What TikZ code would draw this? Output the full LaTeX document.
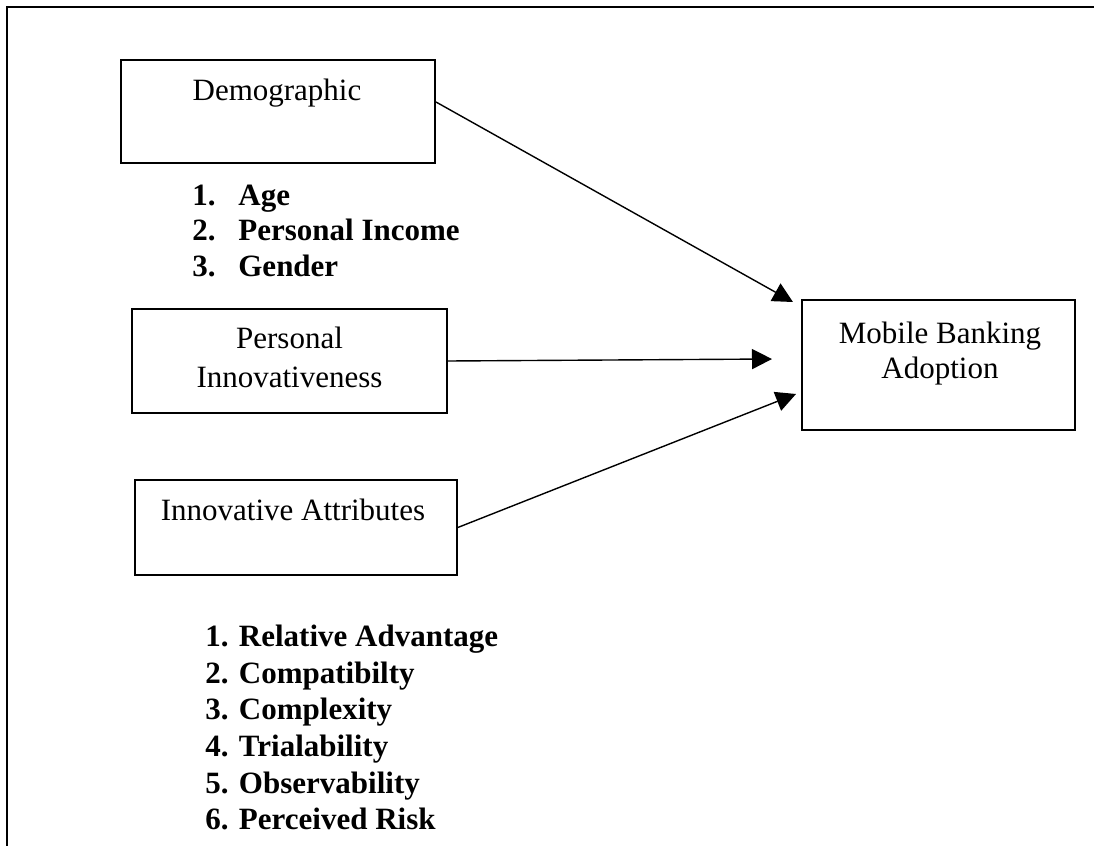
\documentclass[tikz,border=0pt]{standalone}
\usepackage{fontspec}
\setmainfont{Liberation Serif}
\usetikzlibrary{arrows.meta,calc}
\tikzset{
  box/.style={draw, line width=0.8pt, inner sep=0pt, rectangle},
  txt/.style={anchor=base, inner sep=0pt, font=\fontsize{15.5}{18}\selectfont},
  item/.style={anchor=base west, inner sep=0pt, font=\fontsize{15.5}{18}\selectfont\bfseries},
  conn/.style={line width=0.7pt, -{Triangle[length=10pt,width=10pt]}},
  frame/.style={line width=0.6pt}
}
\begin{document}
\begin{tikzpicture}[x=0.5pt,y=-0.5pt]
\useasboundingbox (0,0) rectangle (1094,846);
\draw[frame] (7,846) -- (7,7) -- (1094,7);

% boxes
\node[box, minimum width=157pt, minimum height=51.5pt] (demo) at (278,111.5) {};
\node[box, minimum width=157.5pt, minimum height=52pt] (pers) at (289.5,361) {};
\node[box, minimum width=161pt, minimum height=47.5pt] (innov) at (296,527.5) {};
\node[box, minimum width=136.5pt, minimum height=65pt] (mob) at (938.5,365) {};

% box texts
\node[txt] (demoT) at (277,100) {Demographic};
\node[txt] (persT1) at (289.5,348) {Personal};
\node[txt] (persT2) at (289.5,387) {Innovativeness};
\node[txt] (innovT) at (293,520) {Innovative Attributes};
\node[txt] (mobT1) at (940,343) {Mobile Banking};
\node[txt] (mobT2) at (940,378) {Adoption};

% list 1
\node[item] (a1) at (192,205) {\makebox[23pt][l]{1.}Age};
\node[item] (a2) at (192,240) {\makebox[23pt][l]{2.}Personal Income};
\node[item] (a3) at (192,276) {\makebox[23pt][l]{3.}Gender};

% list 2
\node[item] (b1) at (205,646) {1. Relative Advantage};
\node[item] (b2) at (205,683) {2. Compatibilty};
\node[item] (b3) at (205,719) {3. Complexity};
\node[item] (b4) at (205,756) {4. Trialability};
\node[item] (b5) at (205,793) {5. Observability};
\node[item] (b6) at (205,829) {6. Perceived Risk};

% arrow tips
\coordinate (t1) at (793,302);
\coordinate (t2) at (772,359);
\coordinate (t3) at (796,394);
\coordinate (s1) at (436,102);

\draw[conn] (s1) -- (t1);
\draw[conn] (pers.east) -- (t2);
\draw[conn] (innov.east) -- (t3);
\end{tikzpicture}
\end{document}
